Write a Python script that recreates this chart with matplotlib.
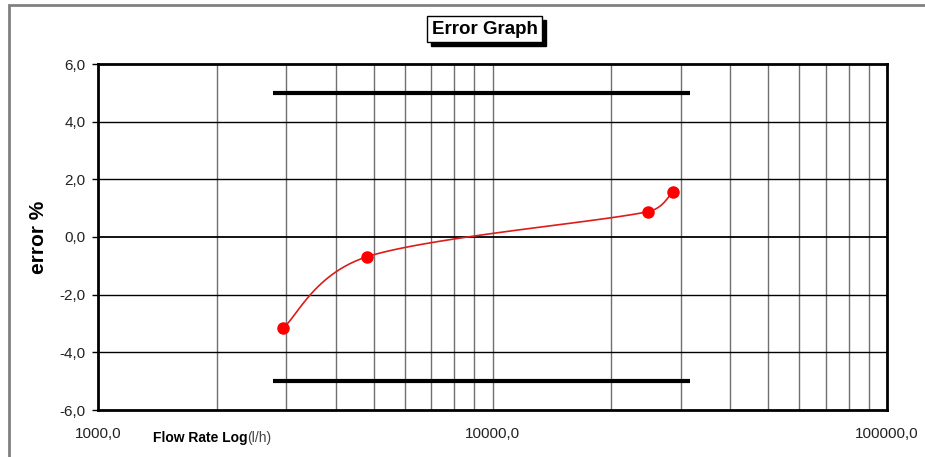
import numpy as np
import matplotlib.pyplot as plt
from matplotlib.patches import Rectangle

plt.rcParams['font.family'] = ['Liberation Sans', 'DejaVu Sans']

# measured flow rates (l/h) and error (%)
flow = [2950, 4820, 24800, 28600]
error = [-3.15, -0.68, 0.88, 1.55]

# tolerance limit lines
limit_x = [2770, 31600]
limit_hi = [5.0, 5.0]
limit_lo = [-5.0, -5.0]

y_ticks = [-6, -4, -2, 0, 2, 4, 6]
y_labels = ['-6,0', '-4,0', '-2,0', '0,0', '2,0', '4,0', '6,0']
x_ticks = [1000, 10000, 100000]
x_labels = ['1000,0', '10000,0', '100000,0']


def smooth(ax, xs, ys, n=40):
    # spreadsheet-like smoothing (Catmull-Rom 1/6 arms, clamped) in screen space
    pts = ax.transData.transform(np.column_stack([xs, ys]))
    ext = np.vstack([pts[0], pts, pts[-1]])
    out = []
    for i in range(1, len(ext) - 2):
        p0, p1, p2, p3 = ext[i - 1], ext[i], ext[i + 1], ext[i + 2]
        L = np.linalg.norm(p2 - p1)
        a1 = (p2 - p0) / 6
        a2 = (p3 - p1) / 6
        if np.linalg.norm(a1) > L / 2:
            a1 = a1 / np.linalg.norm(a1) * L / 2
        if np.linalg.norm(a2) > L / 2:
            a2 = a2 / np.linalg.norm(a2) * L / 2
        c1 = p1 + a1
        c2 = p2 - a2
        t = np.linspace(0, 1, n)[:, None]
        seg = (1 - t) ** 3 * p1 + 3 * (1 - t) ** 2 * t * c1 + 3 * (1 - t) * t ** 2 * c2 + t ** 3 * p2
        out.append(seg)
    out = np.vstack(out)
    return ax.transData.inverted().transform(out)


fig = plt.figure(figsize=(9.25, 4.57), dpi=100)
ax = fig.add_axes([98 / 925, 1 - 410 / 457, (887 - 98) / 925, (410 - 64) / 457])

ax.set_xscale('log')
ax.set_xlim(1000, 100000)
ax.set_ylim(-6, 6)

# grid
for dec in [1000, 10000]:
    for m in range(2, 10):
        ax.axvline(dec * m, color='#707070', lw=1.0, zorder=1)
ax.axvline(10000, color='#707070', lw=1.0, zorder=1)
for v in y_ticks[1:-1]:
    ax.axhline(v, color='black', lw=1.0 if v != 0 else 1.3, zorder=1)

ax.plot(limit_x, limit_hi, color='black', lw=3, solid_capstyle='butt', zorder=2)
ax.plot(limit_x, limit_lo, color='black', lw=3, solid_capstyle='butt', zorder=2)

curve = smooth(ax, flow, error)
ax.plot(curve[:, 0], curve[:, 1], color='#dd1c1c', lw=1.2, zorder=3)
ax.plot(flow, error, 'o', color='#ff0000', ms=8, zorder=4)

ax.set_yticks(y_ticks)
ax.set_yticklabels(y_labels)
ax.set_xticks(x_ticks)
ax.set_xticklabels(x_labels)
ax.minorticks_off()
ax.tick_params(axis='y', length=4, width=1, pad=5, labelsize=11, labelcolor='#222222')
ax.tick_params(axis='x', length=0, pad=12, labelsize=11, labelcolor='#222222')
for s in ax.spines.values():
    s.set_linewidth(2)

ax.set_ylabel('error %', fontsize=15, fontweight='bold', labelpad=8)

# x label: bold part and normal unit
t1 = fig.text(153 / 925, 1 - 438 / 457, 'Flow Rate Log', fontsize=10, fontweight='bold', va='center')
fig.canvas.draw()
bb = t1.get_window_extent()
fig.text(bb.x1 / 925, 1 - 438 / 457, '(l/h)', fontsize=10, color='#444444', va='center')

# title box with shadow
title = fig.text(484.5 / 925, 1 - 29 / 457, 'Error Graph', fontsize=13.5, fontweight='bold',
                 ha='center', va='center', color='black', zorder=5,
                 bbox=dict(boxstyle='square,pad=0.25', fc='white', ec='black', lw=1))
fig.canvas.draw()
bx = title.get_bbox_patch().get_window_extent()
fig.patches.append(Rectangle(((bx.x0 + 4) / 925, (bx.y0 - 4) / 457), bx.width / 925, bx.height / 457,
                             transform=fig.transFigure, fc='black', ec='black', zorder=1))

# outer chart border
fig.patches.append(Rectangle((9 / 925, -0.05), 1.0, 1 - 5 / 457 + 0.05, transform=fig.transFigure,
                             fill=False, ec='#808080', lw=2))

fig.savefig('out.png', dpi=100)
